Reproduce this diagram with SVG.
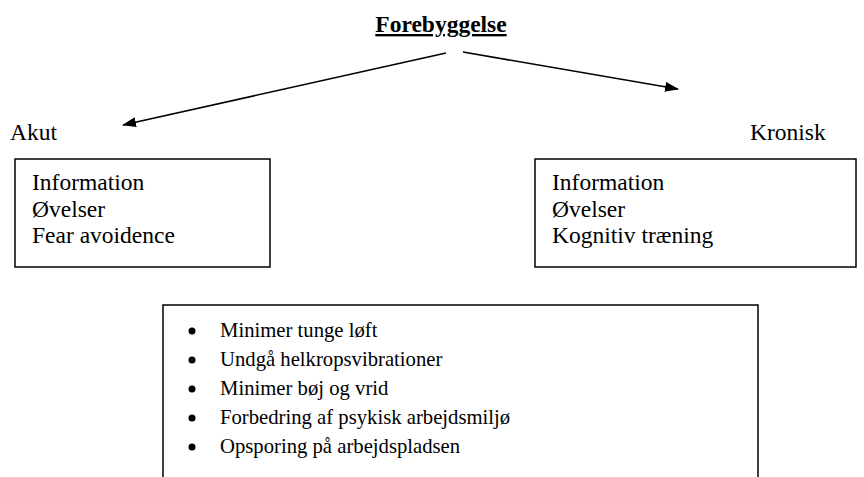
<svg xmlns="http://www.w3.org/2000/svg" width="864" height="477" viewBox="0 0 864 477">
  <style>
    text { font-family: "Liberation Serif", "Times New Roman", "DejaVu Serif", serif; font-size: 23.5px; fill: #000; }
    .title { font-weight: bold; text-decoration: underline; }
    .item { font-size: 20.7px; }
    .box { fill: none; stroke: #000; stroke-width: 1.5; }
    .edge { fill: none; stroke: #000; stroke-width: 1.6; }
  </style>
  <defs>
    <marker id="arrow" viewBox="0 0 14 10" refX="13" refY="5" markerWidth="14" markerHeight="10" markerUnits="userSpaceOnUse" orient="auto">
      <path d="M0,0 L14,5 L0,10 Z" fill="#000"/>
    </marker>
  </defs>

  <rect width="864" height="477" fill="#fff"/>

  <g id="title">
    <text class="title" x="441" y="32" text-anchor="middle">Forebyggelse</text>
  </g>

  <g id="connectors">
    <line class="edge" x1="446" y1="53" x2="123" y2="125" marker-end="url(#arrow)"/>
    <line class="edge" x1="463" y1="52" x2="678" y2="89" marker-end="url(#arrow)"/>
  </g>

  <g id="akut">
    <text x="10" y="140">Akut</text>
    <rect class="box" x="15" y="159" width="255" height="108"/>
    <text x="32" y="190">Information</text>
    <text x="32" y="217">Øvelser</text>
    <text x="32" y="243">Fear avoidence</text>
  </g>

  <g id="kronisk">
    <text x="750" y="140">Kronisk</text>
    <rect class="box" x="535" y="159" width="321" height="108"/>
    <text x="552" y="190">Information</text>
    <text x="552" y="217">Øvelser</text>
    <text x="552" y="243">Kognitiv træning</text>
  </g>

  <g id="tiltag">
    <path class="box" d="M163,480 V305 H758 V480"/>
    <g fill="#000">
      <circle cx="192" cy="331" r="3.5"/>
      <circle cx="192" cy="360" r="3.5"/>
      <circle cx="192" cy="389" r="3.5"/>
      <circle cx="192" cy="418" r="3.5"/>
      <circle cx="192" cy="447" r="3.5"/>
    </g>
    <text class="item" x="220" y="337">Minimer tunge løft</text>
    <text class="item" x="220" y="366">Undgå helkropsvibrationer</text>
    <text class="item" x="220" y="395">Minimer bøj og vrid</text>
    <text class="item" x="220" y="424">Forbedring af psykisk arbejdsmiljø</text>
    <text class="item" x="220" y="453">Opsporing på arbejdspladsen</text>
  </g>
</svg>
